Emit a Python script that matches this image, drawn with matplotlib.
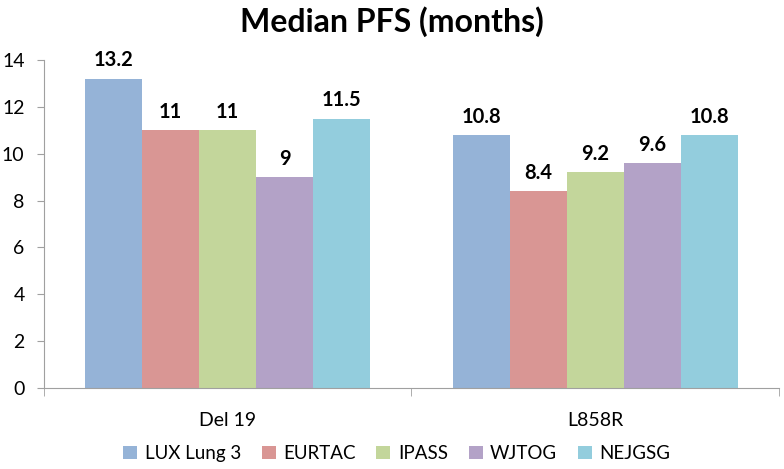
import numpy as np
import matplotlib.pyplot as plt

# data
groups = ['Del 19', 'L858R']
series = ['LUX Lung 3', 'EURTAC', 'IPASS', 'WJTOG', 'NEJGSG']
lux = [13.2, 10.8]
eurtac = [11, 8.4]
ipass = [11, 9.2]
wjtog = [9, 9.6]
nejgsg = [11.5, 10.8]
values = [lux, eurtac, ipass, wjtog, nejgsg]
colors = ['#95B3D7', '#D99694', '#C3D69B', '#B3A2C7', '#93CDDD']

plt.rcParams['font.family'] = ['Lato', 'DejaVu Sans']

fig = plt.figure(figsize=(7.84, 4.69), dpi=100)
ax = fig.add_axes([0.0561, 0.1727, 0.9375, 0.6993])

x = np.arange(len(groups))
w = 0.155
for i, (name, vals) in enumerate(zip(series, values)):
    pos = x + (i - 2) * w
    bars = ax.bar(pos, vals, w, color=colors[i], label=name)
    for b, v in zip(bars, vals):
        ax.annotate('%g' % v, (b.get_x() + b.get_width() / 2, v),
                    xytext=(0, 6), textcoords='offset points',
                    ha='center', va='bottom', fontsize=14.5, fontweight='bold')

ax.set_xlim(-0.5, 1.5)
ax.set_ylim(0, 14)
ax.set_yticks(range(0, 15, 2))
ax.set_xticks(x)
ax.set_xticklabels(groups)
ax.set_xticks([-0.5, 0.5, 1.5], minor=True)
ax.tick_params(axis='x', which='major', length=0, pad=17, labelsize=14)
ax.tick_params(axis='x', which='minor', length=6, color='#a0a0a0')
ax.tick_params(axis='y', length=5, color='#a0a0a0', labelsize=14, pad=9)
for s in ['top', 'right']:
    ax.spines[s].set_visible(False)
for s in ['left', 'bottom']:
    ax.spines[s].set_color('#a0a0a0')

ax.set_title('Median PFS (months)', fontsize=23, fontweight='bold', pad=20, x=0.474)

ax.legend(loc='center', bbox_to_anchor=(0.48, -0.2), ncol=5, frameon=False,
          fontsize=13.5, handlelength=0.75, handleheight=0.75, handletextpad=0.4,
          columnspacing=1.1)

plt.savefig('out.png', dpi=100)
